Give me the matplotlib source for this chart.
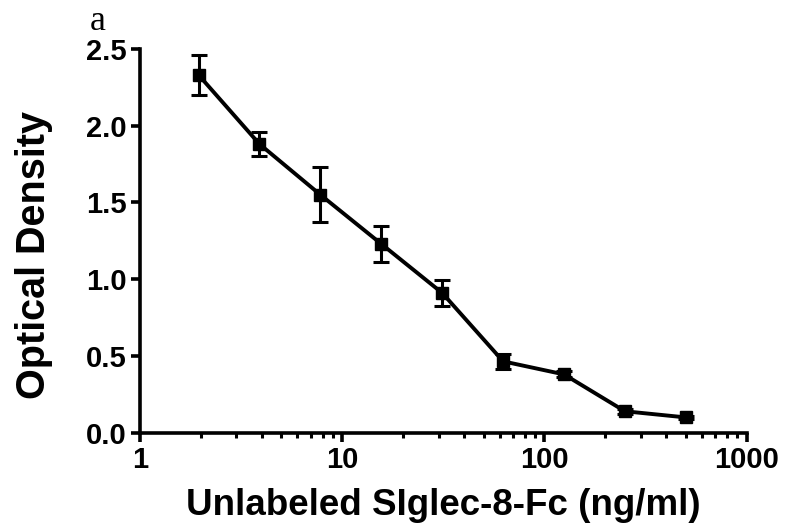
import numpy as np
import matplotlib
matplotlib.use('Agg')
import matplotlib.pyplot as plt
from matplotlib.ticker import LogLocator, NullFormatter, FixedLocator

# Concentration of unlabeled Siglec-8-Fc (ng/ml) and mean optical density
conc = [1.95, 3.9, 7.8, 15.6, 31.25, 62.5, 125, 250, 500]
od = [2.33, 1.88, 1.55, 1.23, 0.91, 0.465, 0.38, 0.14, 0.10]
od_err = [0.13, 0.08, 0.18, 0.115, 0.085, 0.05, 0.02, 0.015, 0.01]

x_ticks = [1, 10, 100, 1000]
x_ticklabels = ['1', '10', '100', '1000']
y_ticks = [0.0, 0.5, 1.0, 1.5, 2.0, 2.5]

plt.rcParams['font.family'] = ['Liberation Sans', 'DejaVu Sans']
plt.rcParams['font.weight'] = 'bold'

fig = plt.figure(figsize=(7.86, 5.31), dpi=100)
ax = fig.add_axes([0.178, 0.185, 0.772, 0.723])

ax.errorbar(conc, od, yerr=od_err, color='black', lw=2.8, marker='s', ms=8,
            capsize=6, capthick=2.2, elinewidth=2.2, clip_on=False, zorder=3)

ax.set_xscale('log')
ax.set_xlim(1, 1000)
ax.set_ylim(0, 2.5)
ax.xaxis.set_major_locator(FixedLocator(x_ticks))
ax.set_xticklabels(x_ticklabels)
ax.xaxis.set_minor_locator(LogLocator(base=10, subs=np.arange(2, 10)))
ax.xaxis.set_minor_formatter(NullFormatter())
ax.set_yticks(y_ticks)
ax.set_yticklabels(['%.1f' % v for v in y_ticks])

for side in ['top', 'right']:
    ax.spines[side].set_visible(False)
for side in ['left', 'bottom']:
    ax.spines[side].set_linewidth(2.6)

ax.tick_params(axis='both', which='major', length=6.5, width=2.6,
               labelsize=21, direction='out', pad=3)
ax.tick_params(axis='x', which='minor', length=3.5, width=2.2, direction='out')

ax.set_xlabel('Unlabeled SIglec-8-Fc (ng/ml)', fontsize=26.5, fontweight='bold',
              labelpad=10)
ax.set_ylabel('Optical Density', fontsize=28.5, fontweight='bold', labelpad=24)
ax.yaxis.label.set_y(0.464)

# panel letter
fig.text(0.114, 0.943, 'a', family='Liberation Serif', fontweight='normal',
         fontsize=26, ha='left', va='baseline')

fig.savefig('out.png', dpi=100)
